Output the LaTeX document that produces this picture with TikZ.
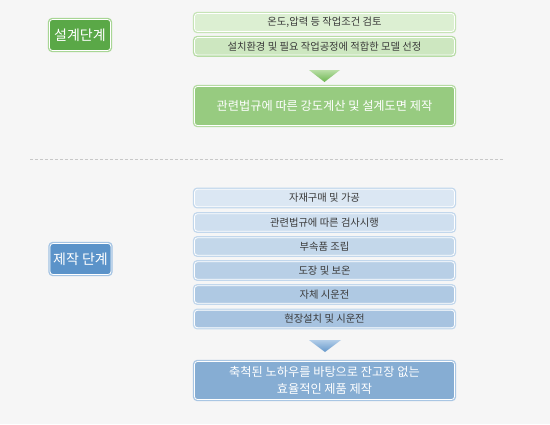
\documentclass[tikz,border=0pt]{standalone}
\usepackage{fontspec}
\setmainfont{Noto Sans CJK KR}
\newcommand\mySmall{\fontsize{10.3pt}{12pt}\selectfont}
\newcommand\myBig{\fontsize{12.2pt}{17pt}\selectfont}
\newcommand\myLbl{\fontsize{14pt}{16pt}\selectfont}
\definecolor{bg}{HTML}{F6F6F6}
\definecolor{txtgray}{HTML}{3A3A3A}
\definecolor{glblf}{HTML}{5AA847}
\definecolor{glblo}{HTML}{A8D695}
\definecolor{gaf}{HTML}{DCEFD2}
\definecolor{gao}{HTML}{C6E4B6}
\definecolor{gbf}{HTML}{CDE7C0}
\definecolor{gbo}{HTML}{B7DCA5}
\definecolor{gbigf}{HTML}{97CB80}
\definecolor{gbigo}{HTML}{B5DBA3}
\definecolor{garrt}{HTML}{B9DEA6}
\definecolor{garrb}{HTML}{6DB651}
\definecolor{blblf}{HTML}{5B93C9}
\definecolor{blblo}{HTML}{A3C3E3}
\definecolor{baf}{HTML}{DBE7F3}
\definecolor{bbf}{HTML}{CFDFEF}
\definecolor{bcf}{HTML}{C3D7EA}
\definecolor{bdf}{HTML}{B8CFE6}
\definecolor{bef}{HTML}{AFC9E3}
\definecolor{bff}{HTML}{A7C3E0}
\definecolor{bo}{HTML}{C2D7EC}
\definecolor{bbigf}{HTML}{86ADD3}
\definecolor{bbigo}{HTML}{A9C6E3}
\definecolor{barrt}{HTML}{B2CDE8}
\definecolor{barrb}{HTML}{6497CA}
\definecolor{dashc}{HTML}{C8C8C8}
\begin{document}
\begin{tikzpicture}[x=1pt,y=-1pt,
  boxbase/.style={rounded corners=3pt, draw=white, line width=0.8pt, inner sep=0pt, align=center},
  col/.style 2 args={fill=#1, preaction={draw=#2, line width=3.4pt}},
  smallbox/.style={boxbase, minimum width=260pt, minimum height=17.5pt, text=txtgray, font=\mySmall},
  bigbox/.style={boxbase, minimum width=260pt, text=white, font=\myBig},
  lblbox/.style={boxbase, minimum width=61pt, minimum height=31pt, text=white, font=\myLbl}
]
\fill[bg] (0,0) rectangle (550,424);
\useasboundingbox (0,0) rectangle (550,424);

% design stage
\node[lblbox, col={glblf}{glblo}] (design) at (80,35) {설계단계};
\node[smallbox, col={gaf}{gao}, minimum height=18pt] (g1) at (324.5,22.5) {온도,압력 등 작업조건 검토};
\node[smallbox, col={gbf}{gbo}] (g2) at (324.5,46.3) {설치환경 및 필요 작업공정에 적합한 모델 선정};
\coordinate (ga1) at (309,70);
\coordinate (ga2) at (340,70);
\coordinate (ga3) at (324.5,82);
\shade[top color=garrt, bottom color=garrb] (ga1) -- (ga2) -- (ga3) -- cycle;
\node[bigbox, col={gbigf}{gbigo}, minimum height=39pt] (gbig) at (324.5,106) {관련법규에 따른 강도계산 및 설계도면 제작};

% separator
\coordinate (sepL) at (30,159);
\coordinate (sepR) at (504,159);
\draw[dashc, line width=1pt, dash pattern=on 3pt off 2pt] (sepL) -- (sepR);

% manufacturing stage
\node[lblbox, col={blblf}{blblo}] (make) at (80.5,259) {제작 단계};
\node[smallbox, col={baf}{bo}] (b1) at (324.5,198) {자재구매 및 가공};
\node[smallbox, col={bbf}{bo}] (b2) at (324.5,222.5) {관련법규에 따른 검사시행};
\node[smallbox, col={bcf}{bo}] (b3) at (324.5,246.5) {부속품 조립};
\node[smallbox, col={bdf}{bo}] (b4) at (324.5,270.5) {도장 및 보온};
\node[smallbox, col={bef}{bo}] (b5) at (324.5,294.5) {자체 시운전};
\node[smallbox, col={bff}{bo}] (b6) at (324.5,319) {현장설치 및 시운전};
\coordinate (ba1) at (309,340);
\coordinate (ba2) at (341,340);
\coordinate (ba3) at (325,352);
\shade[top color=barrt, bottom color=barrb] (ba1) -- (ba2) -- (ba3) -- cycle;
\node[bigbox, col={bbigf}{bbigo}, minimum height=38pt] (bbig) at (324.5,380.5) {축척된 노하우를 바탕으로 잔고장 없는\\효율적인 제품 제작};
\end{tikzpicture}
\end{document}
